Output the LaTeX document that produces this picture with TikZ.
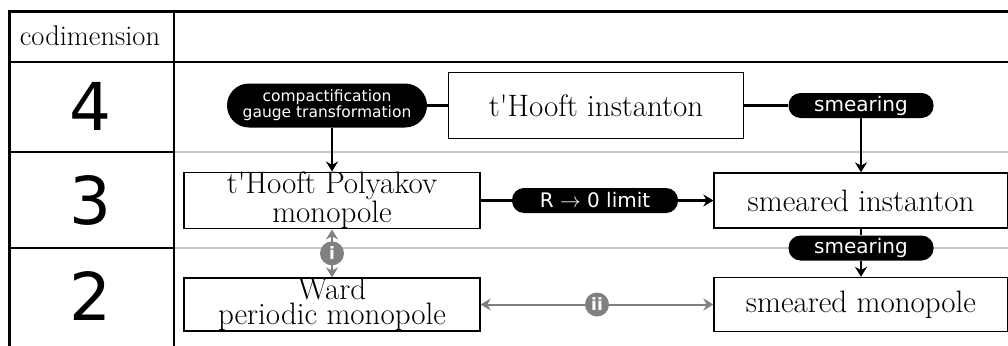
\documentclass[tikz,border=0pt]{standalone}
\usepackage{fontspec}
\newfontfamily\pillfont{DejaVu Sans}
\usepackage{tikz}
\definecolor{rule}{RGB}{200, 200, 200}
\definecolor{gr}{RGB}{128, 128, 128}
\usetikzlibrary{positioning}
\usetikzlibrary{arrows.meta}

\begin{document}
\begin{tikzpicture}[
  box/.style={draw=black, line width=1.3pt, fill=white, inner sep=0pt, align=center, font=\fontsize{31}{25.5}\selectfont},
  pill/.style={fill=black, text=white, rounded corners=12pt, minimum height=25pt, inner sep=0pt, align=center, font=\pillfont\fontsize{20}{20}\selectfont},
  numcirc/.style={circle, fill=gr, text=white, minimum size=24pt, inner sep=0pt, font=\pillfont\bfseries\fontsize{17}{17}\selectfont},
  rowno/.style={inner sep=0pt, font=\pillfont\fontsize{66}{66}\selectfont},
  link/.style={line width=2.2pt, color=black},
  arr/.style={link, -{Stealth[length=10pt, width=12pt]}},
  grarr/.style={line width=2pt, color=gr, {Stealth[length=10pt, width=12pt]}-{Stealth[length=10pt, width=12pt]}}
]
\useasboundingbox (0pt, 0pt) rectangle (1008pt, -345pt);
\clip (0pt, 0pt) rectangle (1008pt, -345pt);
% table
\draw [rule, line width=2pt] (174pt, -152pt) -- (1010pt, -152pt);
\draw [rule, line width=2pt] (174pt, -248pt) -- (1010pt, -248pt);
\draw [line width=2.5pt] (9.5pt, -346pt) -- (9.5pt, -11.5pt) -- (1010pt, -11.5pt);
\draw [line width=2.5pt] (174pt, -11.5pt) -- (174pt, -346pt);
\draw [line width=2.2pt] (9.5pt, -62pt) -- (1010pt, -62pt);
\draw [line width=2.2pt] (9.5pt, -152pt) -- (174pt, -152pt);
\draw [line width=2.2pt] (9.5pt, -248pt) -- (174pt, -248pt);
\node (codim) [font=\fontsize{28.5}{28.5}\selectfont] at (90pt, -36pt) {codimension};
\node (four) [rowno] at (90pt, -106pt) {4};
\node (three) [rowno] at (90pt, -200pt) {3};
\node (two) [rowno] at (90pt, -296pt) {2};
% nodes
\node (compact) [pill, rounded corners=22pt, minimum width=200pt, minimum height=44pt, font=\pillfont\fontsize{15.5}{12}\selectfont] at (327pt, -105.5pt) {compactification\\gauge transformation};
\node (hinst) [box, minimum width=295pt, minimum height=66pt] at (596pt, -105.5pt) {t\textquotesingle Hooft instanton};
\node (smearA) [pill, minimum width=145pt] at (861pt, -105.5pt) {smearing};
\node (thp) [box, minimum width=296pt, minimum height=55pt] at (332pt, -200.5pt) {t\textquotesingle Hooft Polyakov\\monopole};
\node (rlim) [pill, minimum width=166pt] at (595pt, -200.5pt) {R $\rightarrow$ 0 limit};
\node (sminst) [box, minimum width=294pt, minimum height=55pt] at (861pt, -200.5pt) {smeared instanton};
\node (smearB) [pill, minimum width=145pt] at (861pt, -248pt) {smearing};
\node (ward) [box, minimum width=296pt, minimum height=53pt] at (332pt, -304.5pt) {Ward\\periodic monopole};
\node (smmono) [box, minimum width=294pt, minimum height=54pt] at (861pt, -304.5pt) {smeared monopole};
% connectors
\draw [link] (compact) -- (hinst);
\draw [link] (hinst) -- (smearA);
\draw [arr] (smearA) -- (sminst);
\draw [arr] (compact.south -| thp.north) -- (thp.north);
\draw [link] (thp) -- (rlim);
\draw [arr] (rlim) -- (sminst);
\draw [link] (sminst) -- (smearB);
\draw [arr] (smearB) -- (smmono);
\draw [grarr] (thp) -- node [numcirc] (ci) {i} (ward);
\draw [grarr] (ward) -- node [numcirc] (cii) {ii} (smmono);
\end{tikzpicture}
\end{document}
